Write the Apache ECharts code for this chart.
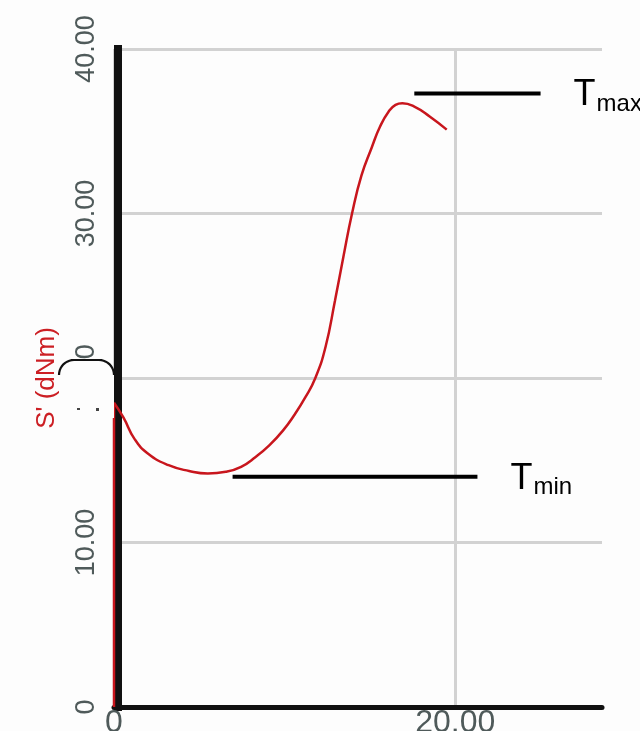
<!DOCTYPE html>
<html>
<head>
<meta charset="utf-8">
<script src="https://cdn.jsdelivr.net/npm/echarts@6/dist/echarts.min.js"></script>
<style>
html,body{margin:0;padding:0;background:#fdfdfd;}
#main{width:640px;height:731px;}
</style>
</head>
<body>
<div id="main"></div>
<script>
// Curve S' (dNm) versus time
const riseX = [0, 0];
const riseY = [0, 18.5];
const curveX = [0, 0.55, 1.2, 2.0, 3.2, 4.4, 5.5, 6.55, 7.45, 8.3, 9.1, 9.9, 10.6, 11.2, 11.8, 12.4, 12.95, 13.45, 13.95, 14.5, 15.1, 15.6, 16.1, 16.5, 16.9, 17.6, 18.5, 19.5];
const curveY = [18.5, 17.6, 16.3, 15.4, 14.7, 14.35, 14.2, 14.3, 14.6, 15.2, 15.9, 16.8, 17.8, 18.8, 20.0, 21.9, 24.7, 27.4, 30.0, 32.3, 34.0, 35.3, 36.2, 36.6, 36.7, 36.5, 35.9, 35.1];
// Reference lines
const tmaxLine = [[17.6, 37.3], [25.0, 37.3]];
const tminLine = [[6.95, 14.0], [21.3, 14.0]];
const tmaxLabel = ['T', 'max'];
const tminLabel = ['T', 'min'];
// Axes
const yTicks = [0, 10, 20, 30, 40];
const xTicks = [0, 20];
const yName = "S' (dNm)";

const FONT = 'Liberation Sans, Arial, sans-serif';
const chart = echarts.init(document.getElementById('main'));
const curve = curveX.map((x, i) => [x, curveY[i]]);
const rise = riseX.map((x, i) => [x, riseY[i]]);

chart.setOption({
  backgroundColor: '#fdfdfd',
  animation: false,
  grid: {left: 114, right: 38, top: 49, bottom: 24, containLabel: false, outerBoundsMode: 'none'},
  xAxis: {
    type: 'value', min: 0, max: 28.6, interval: 20,
    axisLine: {lineStyle: {color: '#111', width: 5}},
    axisTick: {show: false},
    splitLine: {show: true, lineStyle: {color: ['#d2d2d2', '#d2d2d2', 'rgba(0,0,0,0)'], width: 3}},
    axisLabel: {
      color: '#4f5a5a', fontFamily: FONT, fontSize: 32, margin: 0, showMaxLabel: false,
      formatter: v => xTicks.indexOf(v) < 0 ? '' : (v === 0 ? '0' : v.toFixed(2))
    }
  },
  yAxis: {
    type: 'value', min: 0, max: 40, interval: 10, offset: -4,
    axisLine: {onZero: false, lineStyle: {color: '#111', width: 8, cap: 'square'}},
    axisTick: {show: false},
    splitLine: {show: true, lineStyle: {color: '#d2d2d2', width: 3}},
    axisLabel: {
      color: '#4f5a5a', fontFamily: FONT, fontSize: 27, rotate: 90, margin: 18,
      formatter: v => yTicks.indexOf(v) < 0 ? '' : (v === 0 ? '0' : v.toFixed(2))
    },
    name: yName, nameLocation: 'middle', nameRotate: 90, nameGap: 58,
    nameTextStyle: {color: '#cc1f24', fontFamily: FONT, fontSize: 26}
  },
  series: [
    {type: 'line', data: rise, showSymbol: false,
     lineStyle: {color: '#c8161d', width: 2.5}, z: 3},
    {type: 'line', data: curve, smooth: 0.5, showSymbol: false,
     lineStyle: {color: '#c8161d', width: 2.5}, z: 3},
    {type: 'line', data: tmaxLine, showSymbol: false, lineStyle: {color: '#000', width: 4}, z: 4},
    {type: 'line', data: tminLine, showSymbol: false, lineStyle: {color: '#000', width: 4}, z: 4}
  ]
});

function labelGraphics(pt, parts) {
  const p = chart.convertToPixel({gridIndex: 0}, pt);
  return [
    {type: 'text', x: p[0] + 33, y: p[1] + 2, style: {text: parts[0], font: '36px ' + FONT, fill: '#000', verticalAlign: 'middle', align: 'left'}},
    {type: 'text', x: p[0] + 56, y: p[1] + 11, style: {text: parts[1], font: '24px ' + FONT, fill: '#000', verticalAlign: 'middle', align: 'left'}}
  ];
}
// scan artefact over the "20.00" tick label
const a = chart.convertToPixel({gridIndex: 0}, [0, 20]);
const ax = a[0] + 4, ay = a[1];
const arcPts = [];
const R = 15;
for (let i = 0; i <= 10; i++) {
  const t = Math.PI + (Math.PI / 2) * i / 10;
  arcPts.push([ax - 44 + R * Math.cos(t), ay - 3 + R * Math.sin(t)]);
}
for (let i = 0; i <= 10; i++) {
  const t = 1.5 * Math.PI + (Math.PI / 2) * i / 10;
  arcPts.push([ax - 19 + R * Math.cos(t), ay - 3 + R * Math.sin(t)]);
}
const artefact = [
  {type: 'rect', z: 10, shape: {x: ax - 59, y: ay - 18, width: 55, height: 58, r: [15, 15, 0, 0]}, style: {fill: '#fdfdfd'}},
  {type: 'polyline', z: 11, shape: {points: arcPts}, style: {stroke: '#111', lineWidth: 2.2, fill: null}},
  {type: 'rect', z: 11, shape: {x: ax - 41, y: ay + 30, width: 3, height: 2}, style: {fill: '#444'}},
  {type: 'rect', z: 11, shape: {x: ax - 22, y: ay + 30, width: 3, height: 3}, style: {fill: '#444'}}
];
chart.setOption({
  graphic: labelGraphics(tmaxLine[1], tmaxLabel).concat(labelGraphics(tminLine[1], tminLabel)).concat(artefact)
});
</script>
</body>
</html>
